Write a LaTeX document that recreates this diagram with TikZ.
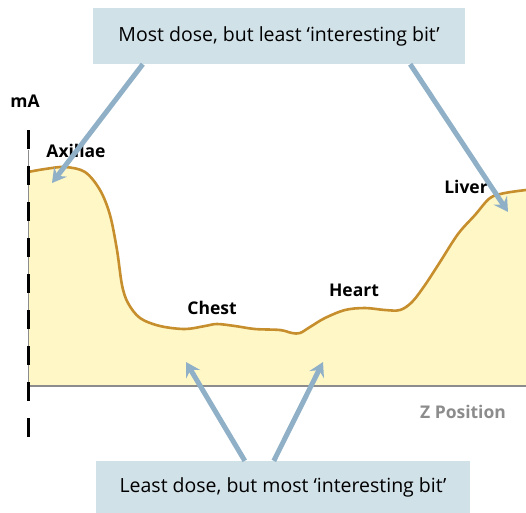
\documentclass[tikz,border=0pt]{standalone}
\usepackage{fontspec}
\setmainfont{Open Sans}
\usetikzlibrary{arrows.meta, positioning}
\definecolor{notebg}{HTML}{D1E1E8}
\definecolor{notearrow}{HTML}{8FB0C6}
\definecolor{curveline}{HTML}{C68E2C}
\definecolor{curvefill}{HTML}{FFF7C6}
\definecolor{axisgray}{HTML}{8C8C8C}
\begin{document}
\begin{tikzpicture}[
			x=1pt, y=-1pt,
			notebox/.style={fill=notebg, minimum width=372pt, minimum height=56pt, inner sep=0pt, font=\fontsize{19.5}{22}\selectfont},
			organ/.style={font=\fontsize{17.5}{20}\selectfont\bfseries},
			hint/.style={-{Stealth[length=14pt, width=16pt, inset=5pt]}, line width=5pt, notearrow}
			]
			\useasboundingbox (0,0) rectangle (526,512);
			% Profile
			\fill[curvefill] (28,386) -- plot[smooth, tension=0.55] coordinates {(28,172) (45,169) (65,167) (85,172) (100,190) (110,215) (117,250) (122,285) (128,303) (140,318) (160,326) (185,329) (205,326) (217,324) (235,326) (255,329) (280,330) (292,333) (300,333) (310,327) (325,318) (345,310) (365,308) (385,310) (400,310) (412,302) (425,285) (440,262) (458,234) (475,215) (490,198) (505,193) (526,190)} -- (526,386) -- cycle;
			\draw[curveline, line width=2.6pt] plot[smooth, tension=0.55] coordinates {(28,172) (45,169) (65,167) (85,172) (100,190) (110,215) (117,250) (122,285) (128,303) (140,318) (160,326) (185,329) (205,326) (217,324) (235,326) (255,329) (280,330) (292,333) (300,333) (310,327) (325,318) (345,310) (365,308) (385,310) (400,310) (412,302) (425,285) (440,262) (458,234) (475,215) (490,198) (505,193) (526,190)};
			
			% Axes
			\draw[axisgray, line width=0.8pt] (28,150) -- (28,386);
			\draw[axisgray, line width=2pt] (28,386) -- (526,386);
			\draw[black, line width=3pt, dash pattern=on 19pt off 17pt] (28,130) -- (28,453);
			\node[organ] (ma) at (25,101) {mA};
			\node[organ, text=axisgray] (zpos) at (463,412) {Z Position};
			
			% Organs
			\node[organ] (axillae) at (76,151) {Axillae};
			\node[organ] (chest) at (212,308) {Chest};
			\node[organ] (heart) at (354,290) {Heart};
			\node[organ] (liver) at (466,187) {Liver};
			
			% Notes
			\node[notebox] (most) at (279,36) {Most dose, but least ‘interesting bit’};
			\node[notebox, minimum width=374pt, minimum height=52pt] (least) at (283,487) {Least dose, but most ‘interesting bit’};
			
			% Arrows
			\coordinate (axtip) at (52,183);
			\coordinate (livtip) at (508,212);
			\coordinate (chtip) at (186,362);
			\coordinate (hetip) at (323,362);
			\draw[hint] ([xshift=50pt]most.south west) -- (axtip);
			\draw[hint] ([xshift=-55pt]most.south east) -- (livtip);
			\draw[hint] ([xshift=149pt]least.north west) -- (chtip);
			\draw[hint] ([xshift=178pt]least.north west) -- (hetip);
		\end{tikzpicture}
\end{document}
